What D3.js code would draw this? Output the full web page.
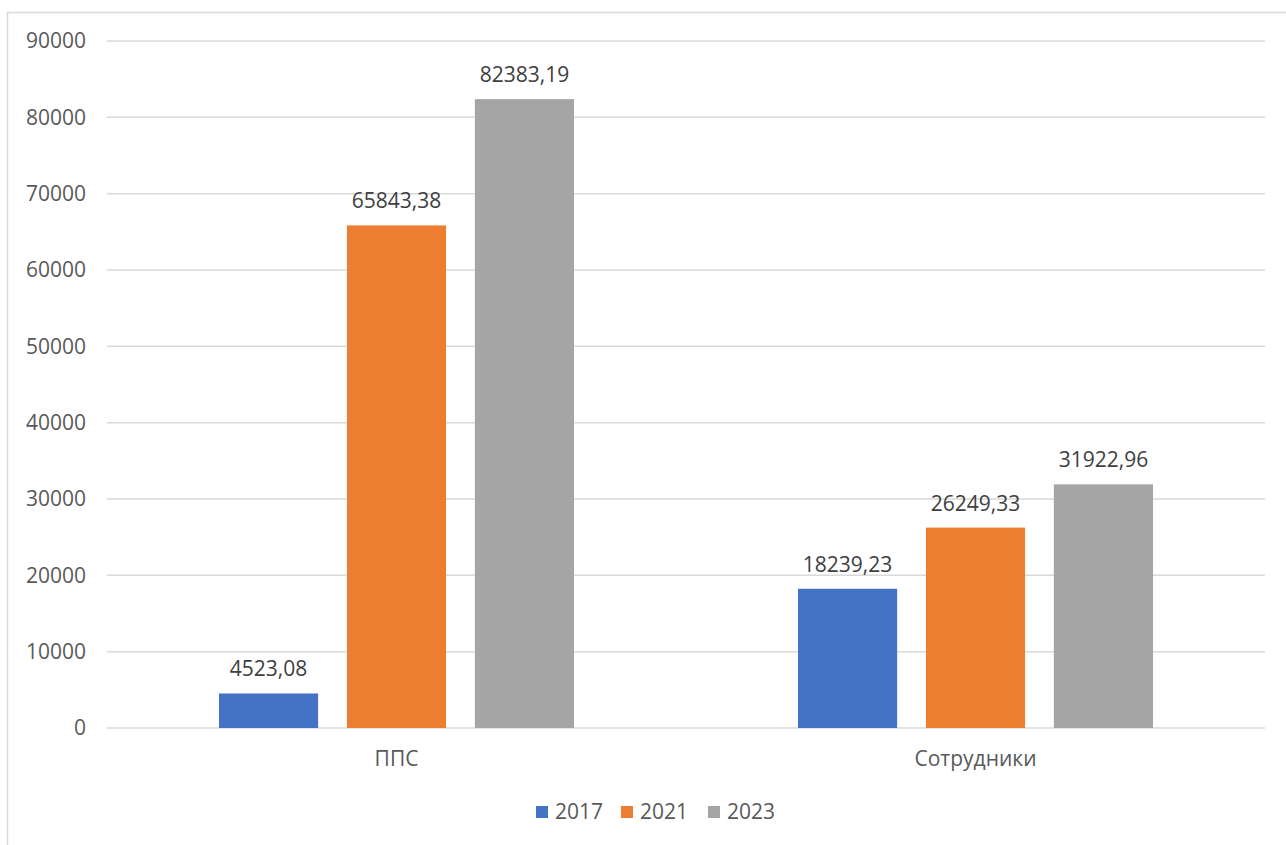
<!DOCTYPE html>
<html>
<head>
	<meta charset="utf-8">
	<title>ППС / Сотрудники</title>
	<script src="https://cdn.jsdelivr.net/npm/d3@7"></script>
	<style>
		html, body { margin: 0; padding: 0; background: #fff; }
		text { font-family: "Open Sans", "Noto Sans", sans-serif; }
	</style>
</head>
<body>
	<div id="chart"></div>
	<script type="text/javascript">
		// data
		var categories = ["ППС", "Сотрудники"];
		var years = ["2017", "2021", "2023"];
		var values2017 = [4523.08, 18239.23];
		var values2021 = [65843.38, 26249.33];
		var values2023 = [82383.19, 31922.96];
		var yTicks = [0, 10000, 20000, 30000, 40000, 50000, 60000, 70000, 80000, 90000];
		var colors = ["#4472c4", "#ed7d31", "#a5a5a5"];

		var series = [values2017, values2021, values2023];

		var width = 1286;
		var height = 845;
		var plot = { left: 107, right: 1265, top: 41, bottom: 728 };
		var fontSize = "21px";

		var svg = d3.select("#chart")
					.append("svg")
					.attr("width", width)
					.attr("height", height);

		// chart frame (right and bottom edges run off the picture)
		svg.append("rect")
			.attr("x", 7.5)
			.attr("y", 12.5)
			.attr("width", 1300)
			.attr("height", 900)
			.attr("fill", "none")
			.attr("stroke", "#d9d9d9")
			.attr("stroke-width", 1.5);

		var y = d3.scaleLinear()
				.domain([0, 90000])
				.range([plot.bottom, plot.top]);

		var x0 = d3.scaleBand()
				.domain(categories)
				.range([plot.left, plot.right]);

		var x1 = d3.scaleBand()
				.domain(years)
				.range([112, x0.bandwidth() - 112])
				.paddingInner(0.225);

		// gridlines
		svg.append("g")
			.selectAll("line")
			.data(yTicks)
			.enter()
				.append("line")
				.attr("x1", plot.left)
				.attr("x2", plot.right)
				.attr("y1", function(d) { return y(d); })
				.attr("y2", function(d) { return y(d); })
				.attr("stroke", "#d9d9d9")
				.attr("stroke-width", 1.5);

		// y axis labels
		var yAxis = d3.axisLeft(y)
				.tickValues(yTicks)
				.tickSize(0)
				.tickPadding(21)
				.tickFormat(function(d) { return d; });

		var yg = svg.append("g")
				.attr("transform", "translate(" + plot.left + ",0)")
				.call(yAxis);
		yg.select(".domain").remove();
		yg.selectAll("text")
			.attr("fill", "#595959")
			.style("font-size", fontSize);

		// x axis labels
		var xAxis = d3.axisBottom(x0)
				.tickSize(0)
				.tickPadding(23);

		var xg = svg.append("g")
				.attr("transform", "translate(0," + plot.bottom + ")")
				.call(xAxis);
		xg.select(".domain").remove();
		xg.selectAll("text")
			.attr("fill", "#595959")
			.style("font-size", fontSize);

		// bars
		var groups = svg.selectAll(".group")
					.data(categories)
					.enter()
						.append("g")
						.attr("class", "group")
						.attr("transform", function(d) { return "translate(" + x0(d) + ",0)"; });

		var cells = groups.selectAll(".cell")
					.data(function(d, i) {
						return years.map(function(yr, j) { return { year: yr, value: series[j][i], idx: j }; });
					})
					.enter()
						.append("g")
						.attr("class", "cell");

		cells.append("rect")
			.attr("x", function(d) { return x1(d.year); })
			.attr("y", function(d) { return y(d.value); })
			.attr("width", x1.bandwidth())
			.attr("height", function(d) { return y(0) - y(d.value); })
			.attr("fill", function(d) { return colors[d.idx]; });

		cells.append("text")
			.attr("x", function(d) { return x1(d.year) + x1.bandwidth() / 2; })
			.attr("y", function(d) { return y(d.value) - 17; })
			.attr("text-anchor", "middle")
			.attr("fill", "#404040")
			.style("font-size", fontSize)
			.text(function(d) { return d3.format(".2f")(d.value).replace(".", ","); });

		// legend
		var legendX = [536, 621, 708];
		var legend = svg.append("g")
					.selectAll("g")
					.data(years)
					.enter()
						.append("g")
						.attr("transform", function(d, i) { return "translate(" + legendX[i] + ",806)"; });

		legend.append("rect")
			.attr("width", 12)
			.attr("height", 12)
			.attr("fill", function(d, i) { return colors[i]; });

		legend.append("text")
			.attr("x", 19)
			.attr("y", 6)
			.attr("dy", "0.35em")
			.attr("fill", "#595959")
			.style("font-size", fontSize)
			.text(function(d) { return d; });
	</script>
</body>
</html>
